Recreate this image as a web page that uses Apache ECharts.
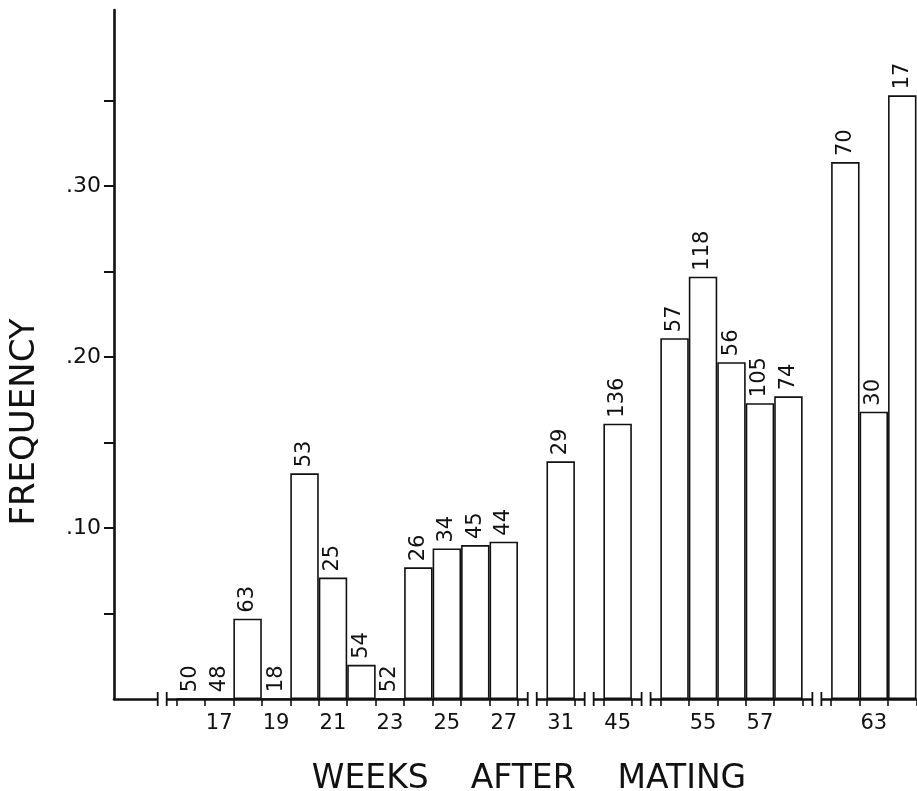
<!DOCTYPE html>
<html>
<head>
<meta charset="utf-8">
<script src="https://cdn.jsdelivr.net/npm/echarts@6/dist/echarts.min.js"></script>
<style>
  html, body { margin: 0; padding: 0; background: #fff; }
  #chart { width: 917px; height: 791px; }
</style>
</head>
<body>
<div id="chart"></div>
<script>
// Category slots along the broken x axis ('_x' entries are axis-break slots)
const weekSlots = ['_a', '_b', '16', '17', '18', '19', '20', '21', '22', '23', '24', '25', '26', '27',
                   '_c', '31', '_d', '45', '_e', '54', '55', '56', '57', '58', '_f', '62', '63', '64'];
// Frequency per slot (null = break slot)
const frequency = [null, null, 0, 0, 0.047, 0, 0.132, 0.071, 0.020, 0, 0.077, 0.088, 0.090, 0.092,
                   null, 0.139, null, 0.161, null, 0.211, 0.247, 0.197, 0.173, 0.177, null, 0.314, 0.168, 0.353];
// Sample size printed above each bar
const sampleSize = [null, null, 50, 48, 63, 18, 53, 25, 54, 52, 26, 34, 45, 44,
                    null, 29, null, 136, null, 57, 118, 56, 105, 74, null, 70, 30, 17];
// Week labels printed under the axis
const tickLabels = ['17', '19', '21', '23', '25', '27', '31', '45', '55', '57', '63'];
// Slots where the axis is broken
const breakSlots = ['_b', '_c', '_d', '_e', '_f'];
// Y axis ticks / labels
const yTickValues = [0.05, 0.10, 0.15, 0.20, 0.25, 0.30, 0.35];
const yLabelValues = [0.10, 0.20, 0.30];

const FONT = 'DejaVu Sans';
const INK = '#111';

const chart = echarts.init(document.getElementById('chart'), null, { renderer: 'canvas' });

chart.setOption({
  animation: false,
  backgroundColor: '#fff',
  grid: [
    { left: 119.5, right: 0.5, top: 15, bottom: 92 },
    { left: 114, right: 0, top: 10, bottom: 92 }
  ],
  xAxis: [
    {
      type: 'category',
      gridIndex: 0,
      data: weekSlots,
      boundaryGap: true,
      axisLine: { show: false },
      axisTick: {
        show: true,
        length: 7,
        interval: (i) => i >= 2,
        lineStyle: { color: INK, width: 1.6 }
      },
      axisLabel: {
        interval: 0,
        margin: 14,
        fontFamily: FONT,
        fontSize: 21,
        color: INK,
        formatter: (v) => tickLabels.indexOf(v) >= 0 ? v : ''
      },
      splitLine: { show: false }
    },
    {
      type: 'value',
      gridIndex: 1,
      min: 0, max: 1,
      axisLine: { show: true, onZero: false, lineStyle: { color: INK, width: 2.6 } },
      axisTick: { show: false },
      axisLabel: { show: false },
      splitLine: { show: false }
    }
  ],
  yAxis: [
    {
      type: 'value',
      gridIndex: 0,
      min: 0, max: 0.40,
      offset: 5.5,
      axisLine: { show: false },
      axisTick: {
        show: true,
        length: 10,
        customValues: yTickValues,
        lineStyle: { color: INK, width: 2 }
      },
      axisLabel: {
        customValues: yLabelValues,
        margin: 13,
        fontFamily: FONT,
        fontSize: 22,
        color: INK,
        formatter: (v) => '.' + Math.round(v * 100).toString().padStart(2, '0')
      },
      splitLine: { show: false }
    },
    {
      type: 'value',
      gridIndex: 1,
      min: 0, max: 1,
      axisLine: { show: true, onZero: false, lineStyle: { color: INK, width: 2.6 } },
      axisTick: { show: false },
      axisLabel: { show: false },
      splitLine: { show: false }
    }
  ],
  series: [
    {
      type: 'bar',
      xAxisIndex: 0,
      yAxisIndex: 0,
      data: frequency.map(v => v === null ? '-' : v),
      barWidth: '100%',
      barCategoryGap: '0%',
      itemStyle: { color: '#fff', borderColor: INK, borderWidth: 1.6 },
      label: {
        show: true,
        position: 'top',
        rotate: 90,
        align: 'left',
        verticalAlign: 'middle',
        distance: 6,
        fontFamily: FONT,
        fontSize: 21,
        color: INK,
        formatter: (p) => sampleSize[p.dataIndex] == null ? '' : String(sampleSize[p.dataIndex])
      },
      z: 3
    },
    {
      type: 'custom',
      xAxisIndex: 0,
      yAxisIndex: 0,
      clip: false,
      z: 10,
      data: breakSlots.map(s => [s, 0]),
      encode: { x: 0, y: 1 },
      renderItem: (params, api) => {
        const p = api.coord([api.value(0), 0]);
        const h = 4.5;
        return {
          type: 'group',
          children: [
            { type: 'rect', shape: { x: p[0] - h, y: p[1] - 3, width: 2 * h, height: 6 }, style: { fill: '#fff' } },
            { type: 'line', shape: { x1: p[0] - h, y1: p[1] - 7, x2: p[0] - h, y2: p[1] + 7 }, style: { stroke: INK, lineWidth: 1.8 } },
            { type: 'line', shape: { x1: p[0] + h, y1: p[1] - 7, x2: p[0] + h, y2: p[1] + 7 }, style: { stroke: INK, lineWidth: 1.8 } }
          ]
        };
      }
    }
  ],
  graphic: [
    {
      type: 'text',
      x: 25, y: 422,
      rotation: Math.PI / 2,
      style: { text: 'FREQUENCY', fontFamily: FONT, fontSize: 34, fill: INK, textAlign: 'center', textVerticalAlign: 'middle' }
    },
    {
      type: 'text',
      x: 529, y: 779,
      style: { text: 'WEEKS    AFTER    MATING', fontFamily: FONT, fontSize: 33, fill: INK, textAlign: 'center', textVerticalAlign: 'middle' }
    }
  ]
});
</script>
</body>
</html>
